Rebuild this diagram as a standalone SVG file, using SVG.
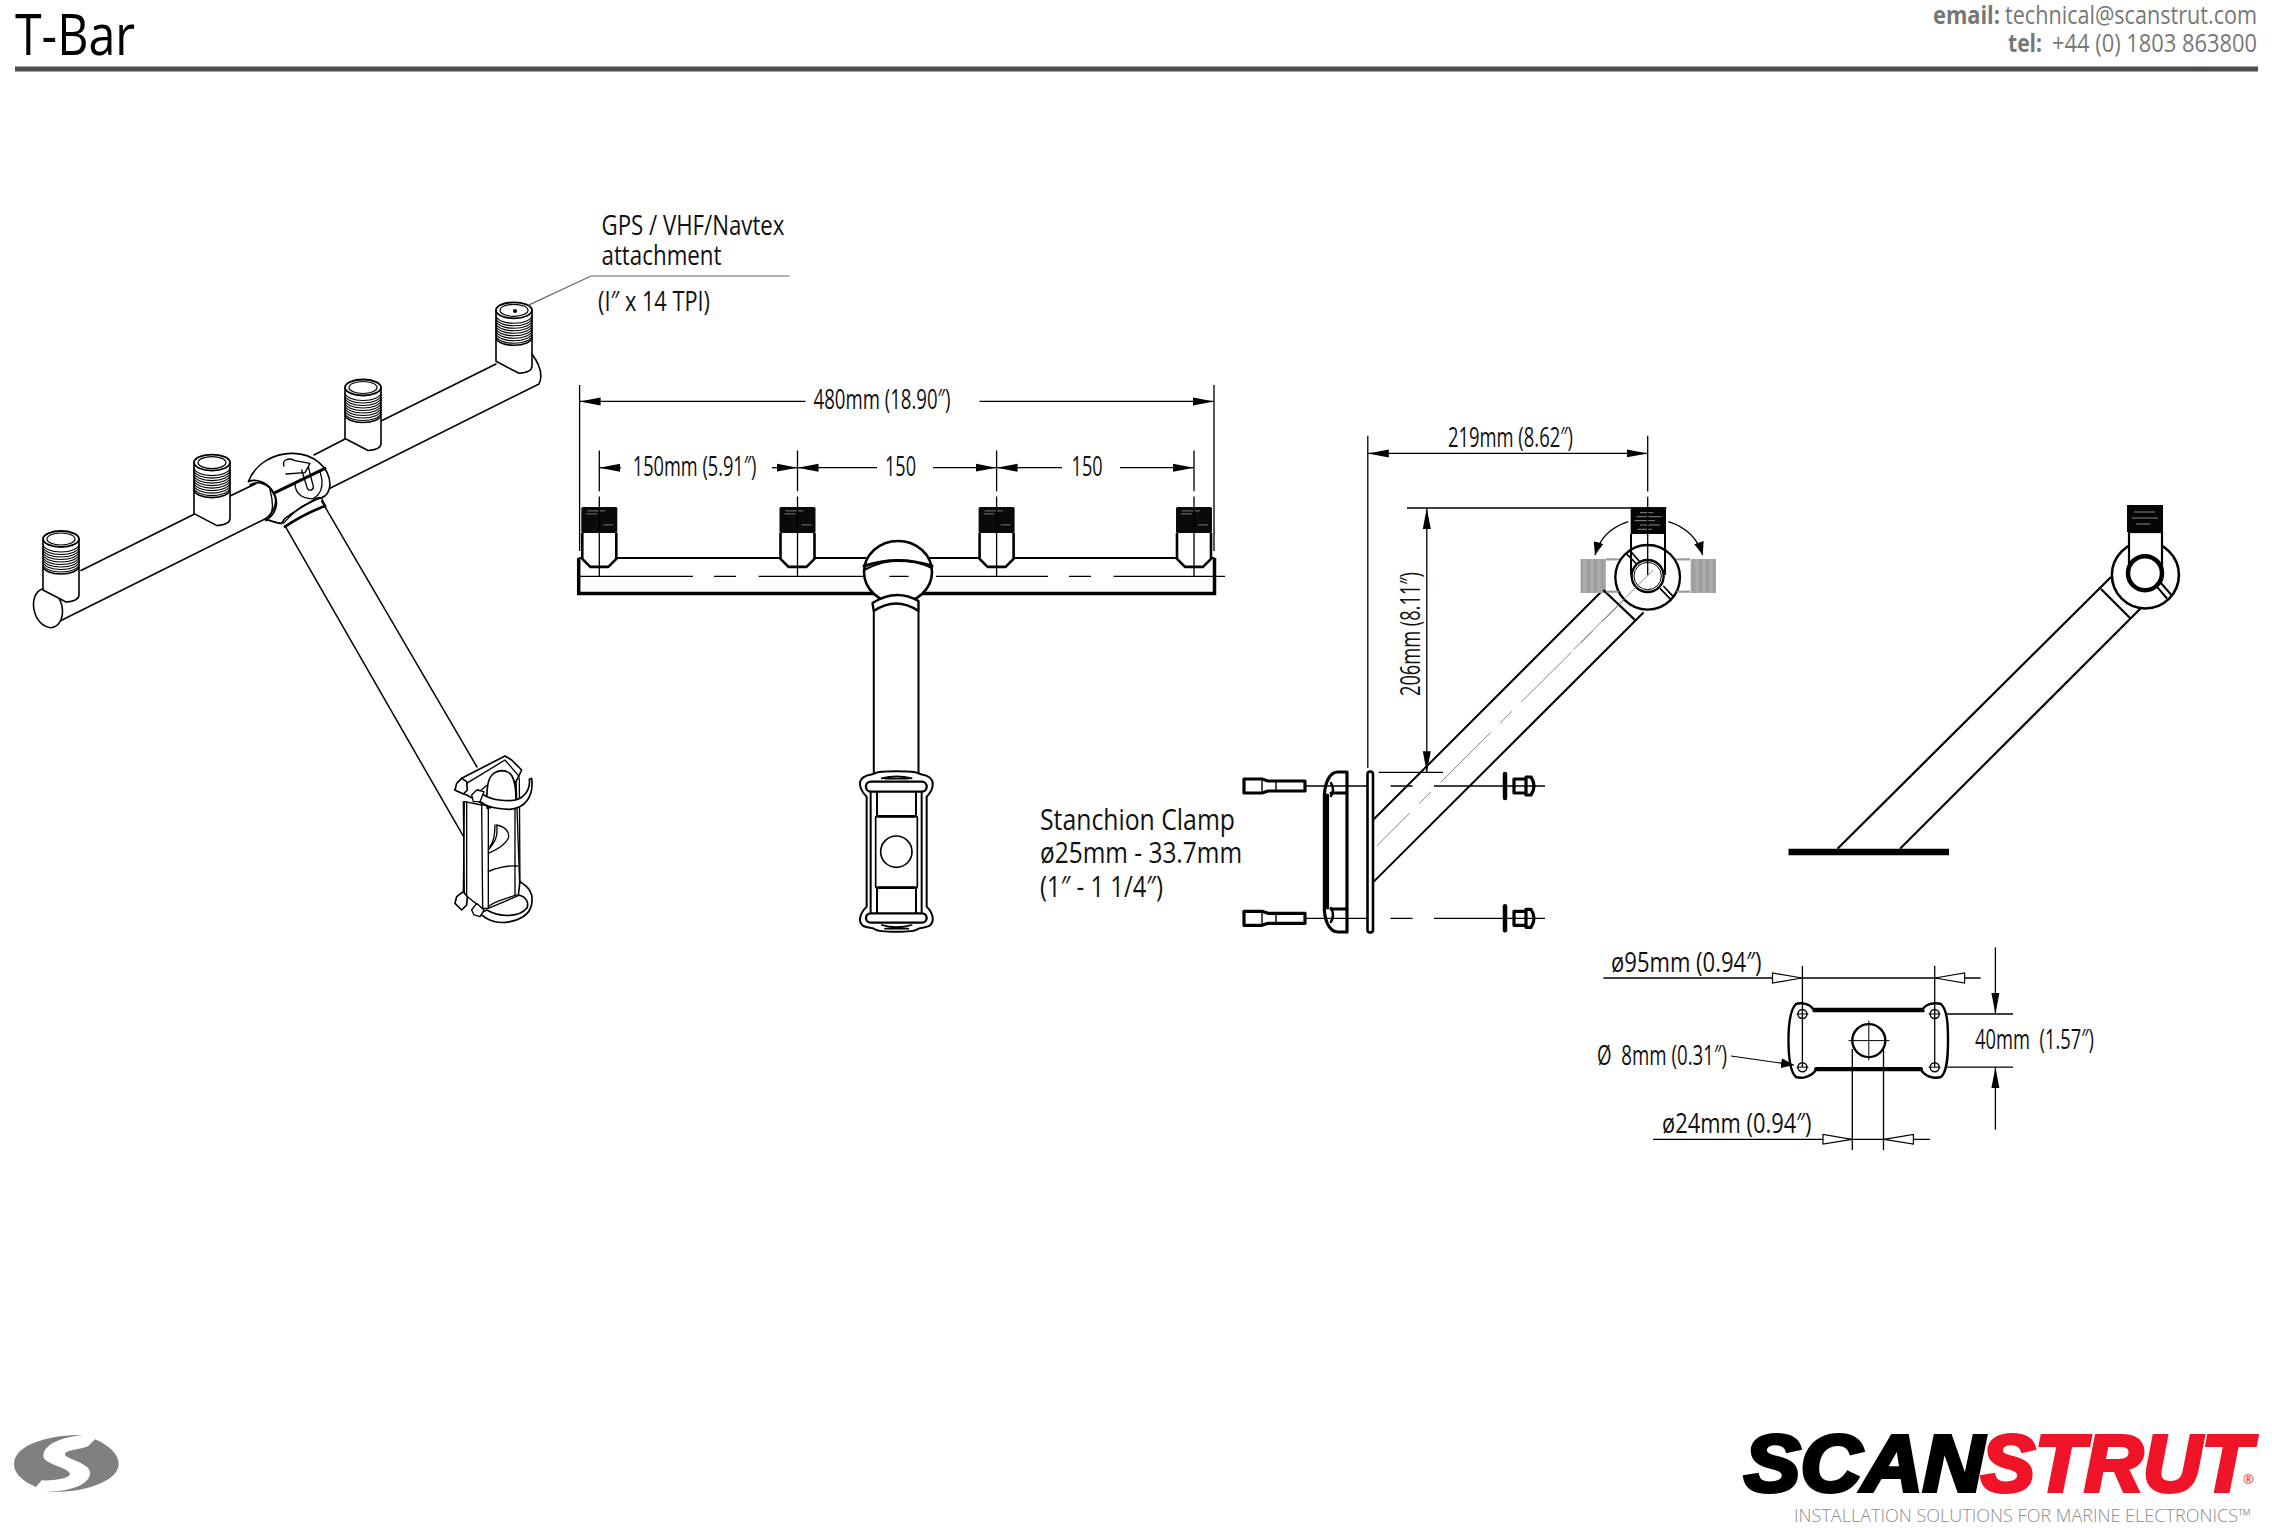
<svg xmlns="http://www.w3.org/2000/svg" width="2272" height="1530" viewBox="0 0 2272 1530">
<style>
text{font-family:"Open Sans","Noto Sans","Liberation Sans",sans-serif;fill:#111}
.n{font-size:28px}
.l{font-size:27px}
.c{fill:#777;font-size:25px}
.o,.o *{fill:none;stroke:#000;stroke-width:2;stroke-linecap:round;stroke-linejoin:round}
.w{fill:#fff!important}
.k{stroke-width:3.2!important}
.d{fill:none;stroke:#000;stroke-width:1.3}
.a{marker-end:url(#ah);marker-start:url(#ah)}
.e{marker-end:url(#ah)}
.h{fill:#fff;stroke:#000;stroke-width:1.2}
</style>
<defs>
<marker id="ah" markerUnits="userSpaceOnUse" markerWidth="22" markerHeight="10" viewBox="0 0 22 10" refX="21" refY="5" orient="auto-start-reverse"><path d="M0,1 L21,5 L0,9 Z" fill="#000"/></marker>
<marker id="as" markerUnits="userSpaceOnUse" markerWidth="14" markerHeight="10" viewBox="0 0 14 10" refX="13" refY="5" orient="auto"><path d="M0,0 L13,5 L0,10 Z" fill="#000"/></marker>
<pattern id="gt" width="3.5" height="8" patternUnits="userSpaceOnUse"><rect width="3.5" height="8" fill="#999"/><path d="M1,0 V8" stroke="#cfcfcf" stroke-width="1"/></pattern>
<g id="iso-nipple" class="o">
<path class="w" style="stroke-width:1.6" d="M-18,28 V51 L5,63 Q18,62 18,56 V28 Z"/>
<path class="w" style="stroke-width:1.6" d="M-18,0 V27 A18,8 0 0 0 18,27 V0 Z"/>
<path style="stroke-width:1.1" d="M-18,5 a18,8 0 0 0 36,0 M-18,7.5 a18,8 0 0 0 36,0 M-18,10 a18,8 0 0 0 36,0 M-18,12.5 a18,8 0 0 0 36,0 M-18,15 a18,8 0 0 0 36,0 M-18,17.5 a18,8 0 0 0 36,0 M-18,20 a18,8 0 0 0 36,0 M-18,22.5 a18,8 0 0 0 36,0 M-18,25 a18,8 0 0 0 36,0"/>
<ellipse class="w" cx="0" cy="0" rx="18" ry="8" style="stroke-width:1.8"/>
<ellipse cx="0" cy="0" rx="14" ry="6" style="stroke-width:1.2"/>
</g>
<g id="front-nipple">
<path d="M-17,26 V52 L-9,60 H9 L17,52 V26" fill="#fff" stroke="#000" stroke-width="2.6" stroke-linejoin="round"/>
<rect x="-18" y="0" width="36" height="26" rx="1.5" fill="#0a0a0a"/>
<path d="M-12,4 H6 M-13,7 H-2 M4,18 H14" stroke="#777" stroke-width="1"/>
</g>
<g id="side-bolt" class="o">
<path class="k" d="M1244,-7 H1262 L1268,-5 H1305 V5 H1268 L1262,7 H1244 Z"/>
<path d="M1262,-5 V5 M1276,-5 V5" style="stroke-width:1.4"/>
</g>
<g id="side-nut" class="o">
<path style="stroke-width:4.5" d="M1505,-12 V12"/>
<path class="k" d="M1514,-7 H1526 V7 H1514 Z M1526,-9 L1531,-9 Q1537,0 1531,9 L1526,9 Z"/>
</g>
</defs>

<g id="header">
<text x="15" y="54.5" style="font-size:56px;fill:#000" textLength="120" lengthAdjust="spacingAndGlyphs">T-Bar</text>
<rect x="15" y="66.5" width="2243" height="5" fill="#4d4d4d"/>
<text class="c" x="1933" y="24" font-weight="700" textLength="67" lengthAdjust="spacingAndGlyphs">email:</text>
<text class="c" x="2005" y="24" textLength="252" lengthAdjust="spacingAndGlyphs">technical@scanstrut.com</text>
<text class="c" x="2008" y="52" font-weight="700" textLength="34" lengthAdjust="spacingAndGlyphs">tel:</text>
<text class="c" x="2052" y="52" textLength="205" lengthAdjust="spacingAndGlyphs">+44 (0) 1803 863800</text>
</g>

<g id="iso-view">
<g class="o">
<path style="stroke-width:1.6" d="M52,625 L267,518 M329.5,488.5 L539,384 Q545,372 532,354 M81,570.5 L194.6,514 M230,496 L256,483.5 M314,455 L345,439 M381,421 L496,364"/>
<ellipse class="w" cx="48" cy="608" rx="14" ry="20" transform="rotate(-15 48 608)" style="stroke-width:1.6"/>
<path style="stroke-width:1.5" d="M285,525.8 L463,835.7 M321.6,501 L477,767"/>
</g>
<use href="#iso-nipple" x="61" y="539"/>
<use href="#iso-nipple" x="212" y="462.6"/>
<use href="#iso-nipple" x="363" y="387.5"/>
<use href="#iso-nipple" x="514" y="310.3"/>
<circle cx="515" cy="311" r="2" fill="#000"/>
<g id="iso-hub" class="o" transform="translate(230,430) scale(.3333)">
<path class="w" style="stroke-width:5" d="M55,155 C75,100 135,68 190,70 C250,72 300,110 300,165 C298,185 290,198 275,203 C240,212 200,240 165,265 L155,280 C140,280 125,272 105,268 C135,245 145,210 130,190 C115,155 75,145 55,155 Z"/>
<path style="stroke-width:5" d="M60,165 C85,150 118,162 133,192 C146,218 140,250 108,272"/>
<path style="stroke-width:4" d="M120,180 C130,215 132,240 118,262"/>
<path style="stroke-width:9" d="M135,188 L285,115"/>
<path style="stroke-width:4" d="M162,108 C155,88 178,82 195,92 L240,100 L225,128 L168,132 M195,160 C195,195 225,210 250,205 C270,195 285,170 270,125 M215,120 L232,175 C238,185 252,180 250,170 L235,110"/>
<path style="stroke-width:4" d="M160,280 C175,265 200,235 225,225 C245,215 265,195 275,205 L285,225"/>
<path style="stroke-width:8" d="M165,290 C195,270 240,245 285,228"/>
</g>
<g id="iso-clamp" class="o" transform="translate(430,740) scale(.3333)">
<path class="w" style="stroke-width:4" d="M100,460 L103,185 L155,195 L175,195 L258,118 L270,465 L175,505 L155,505 Z"/>
<path style="stroke-width:4" d="M100,185 L103,460 M110,185 L110,465 M155,195 L158,505 M175,195 L175,505 M255,115 L255,465 M268,115 L270,440"/>
<path class="w" style="stroke-width:5" d="M75,150 L95,115 L225,48 L245,60 L275,90 L258,125 L175,200 L110,165 Z"/>
<path style="stroke-width:4" d="M110,130 L225,60 L268,110 M135,165 L225,92"/>
<path class="w" style="stroke-width:5" d="M172,205 C165,110 185,95 215,92 C240,92 258,105 258,180 Z"/>
<path style="stroke-width:4" d="M175,330 C195,305 205,290 200,255 C225,260 240,275 235,295 C225,315 200,330 175,340 M180,320 C195,300 195,270 195,255"/>
<path style="stroke-width:4" d="M175,395 C195,385 235,375 262,378"/>
<path class="w" style="stroke-width:5" d="M135,165 C150,195 190,208 240,208 C285,205 312,170 305,115 L298,118 C302,150 280,182 240,182 C195,182 160,170 145,150 Z"/>
<path class="w" style="stroke-width:5" d="M75,150 L80,130 L95,115 L110,125 L112,150 L100,162 Z"/>
<path class="w" style="stroke-width:4" d="M125,165 L140,150 L162,155 L150,185 L130,185 Z"/>
<path class="w" style="stroke-width:5" d="M150,520 C175,545 210,552 240,545 C290,535 312,510 305,465 C300,445 285,435 270,425 L265,465 C290,470 298,490 290,505 C270,530 215,535 170,510 Z"/>
<path class="w" style="stroke-width:5" d="M75,490 L80,470 L100,455 L112,470 L110,495 L95,510 Z"/>
<path class="w" style="stroke-width:4" d="M125,510 L140,490 L162,510 L150,530 L132,525 Z"/>
<path style="stroke-width:4" d="M175,500 C190,485 215,480 260,465"/>
</g>
</g>

<g id="front-view">
<path d="M578.7,558 V593.5 H1214.5 V558" fill="none" stroke="#000" stroke-width="3.5"/>
<path d="M578.7,558 H1214.5" fill="none" stroke="#000" stroke-width="2.2"/>
<use href="#front-nipple" x="599.3" y="506.9"/>
<use href="#front-nipple" x="797.5" y="506.9"/>
<use href="#front-nipple" x="996.6" y="506.9"/>
<use href="#front-nipple" x="1194" y="506.9"/>
<path class="d" d="M578.7,576.4 H693 M714,576.4 H736 M758.7,576.4 H863.6 M936,576.4 H1048 M1069,576.4 H1091 M1113.6,576.4 H1225"/>
<g class="o">
<path class="w" d="M873.8,612 V773 H918.5 V612"/>
<ellipse class="w" cx="898" cy="572" rx="34" ry="31" style="stroke-width:2.6"/>
<path d="M864,570 Q898,552 932,568"/>
<path style="stroke-width:3" d="M864,566 Q898,555 932,566"/>
<path class="w" d="M872.5,603 Q896,588 918.5,601 L918.5,611 Q896,596 873.8,611 Z" style="stroke-width:2.4"/>
<path d="M890,576.4 H908" style="stroke-width:1.3"/>
</g>
<g id="front-clamp" class="o" transform="translate(840,740) scale(.3333)">
<path class="w" style="stroke-width:6" d="M80,170 C60,150 52,125 70,112 C85,102 100,105 105,100 C118,92 222,92 235,100 C240,105 255,102 268,112 C285,125 280,150 260,170 L260,500 C280,520 285,545 268,558 C255,565 240,562 232,568 C220,578 118,578 105,568 C98,562 85,565 70,558 C52,545 60,520 80,500 Z"/>
<path style="stroke-width:5" d="M125,115 Q170,103 215,115 M125,555 Q170,568 215,555 M135,116 H205 M135,566 H205"/>
<rect class="w" x="78" y="125" width="182" height="30" rx="14" style="stroke-width:7"/>
<rect class="w" x="78" y="520" width="182" height="28" rx="14" style="stroke-width:7"/>
<path style="stroke-width:6" d="M92,157 V518 M111,157 V518 M228,157 V518 M245,157 V518"/>
<rect class="w" x="107" y="229" width="125" height="214" rx="3" style="stroke-width:5"/>
<path style="stroke-width:8" d="M115,229 H225 M115,443 H225"/>
<circle cx="169" cy="335" r="47" style="stroke-width:5"/>
</g>
</g>

<g id="side-view">
<g class="o">
<path d="M1603,590 L1373,820 M1643,613 L1373,882.4"/>
<path d="M1652,572 L1377,845.6" style="stroke-width:.9;stroke:#777;stroke-dasharray:70 14 16 14"/>
<rect class="w" x="1367.5" y="771.6" width="5.5" height="160.8" rx="2.5" style="stroke-width:2.6"/>
<path class="k" d="M1346,772 H1338 C1330,772 1325,782 1324.4,795 V910 C1325,922 1330,932 1338,932 H1346"/>
<path class="k" d="M1347,772 V932 M1327.5,795 V908 M1346,793 H1331 M1346,909 H1331"/>
<path style="stroke-width:2.5" d="M1331,783 Q1335,790 1331,796 M1331,908 Q1335,915 1331,922"/>
</g>
<use href="#side-bolt" y="786"/>
<use href="#side-bolt" y="918.3"/>
<use href="#side-nut" y="786"/>
<use href="#side-nut" y="918.3"/>
<g id="side-head" transform="translate(1520,490) scale(.3333)">
<rect x="182" y="207" width="76" height="102" fill="url(#gt)"/>
<rect x="512" y="207" width="76" height="102" fill="url(#gt)"/>
<path d="M258,208 H510 M258,305 H510" stroke="#999" stroke-width="5"/>
<path d="M250,300 L345,390" stroke="#000" stroke-width="7"/>
<circle cx="383" cy="262" r="97" fill="#fff" stroke="#000" stroke-width="7"/>
<path d="M258,208 H290 M475,208 H510 M258,305 H296 M470,305 H510" stroke="#999" stroke-width="5"/>
<path d="M333,132 V255 M435,132 V255" stroke="#000" stroke-width="6"/>
<rect x="332" y="52" width="106" height="80" fill="#050505"/>
<path d="M360,68 H400 M350,80 H425 M345,92 H405 M360,105 H420 M352,118 H395" stroke="#888" stroke-width="3"/>
<path d="M318,190 L350,222 M330,182 L358,214 M420,295 L452,328 M430,288 L460,320" stroke="#000" stroke-width="5"/>
<circle cx="383" cy="258" r="48" fill="#fff" stroke="#000" stroke-width="7"/>
<circle cx="383" cy="258" r="41" fill="none" stroke="#000" stroke-width="3"/>
<path d="M400,240 L160,480" stroke="#777" stroke-width="2.5"/>
</g>
</g>

<g id="right-view">
<path d="M1837.5,848.7 L2111,577 M1900,848.7 L2141,608" fill="none" stroke="#000" stroke-width="2.2"/>
<path d="M1788.5,852 H1949" stroke="#000" stroke-width="6.5"/>
<path d="M2101,589 L2130,618" stroke="#000" stroke-width="2.2"/>
<circle cx="2145.4" cy="575" r="33.5" fill="#fff" stroke="#000" stroke-width="2.6"/>
<path d="M2156,585.6 L2167,598.5 M2160,582 L2171,594.5" stroke="#000" stroke-width="2"/>
<rect x="2129" y="532" width="33" height="36" fill="#fff" stroke="#000" stroke-width="2.2"/>
<rect x="2127" y="505" width="36" height="27" fill="#050505"/>
<path d="M2134,512 H2155 M2132,518 H2158 M2136,524 H2150" stroke="#888" stroke-width="1"/>
<circle cx="2145" cy="573.2" r="17" fill="#fff" stroke="#000" stroke-width="4.5"/>
</g>

<g id="plate-view" class="o">
<path class="w" style="stroke-width:2.4" d="M1796,1004 C1802,1002 1810,1004 1813,1009 H1923 C1926,1004 1934,1002 1941,1004 C1947,1010 1948,1022 1948,1040 C1948,1058 1947,1072 1941,1077 C1934,1079 1926,1077 1921,1070 H1816 C1811,1077 1802,1079 1796,1077 C1790,1072 1788.5,1058 1788.5,1040 C1788.5,1022 1790,1010 1796,1004 Z"/>
<path style="stroke-width:2.6" d="M1813.7,1011 H1923.4"/>
<path style="stroke-width:4" d="M1816,1069 H1921"/>
<circle style="stroke-width:1.4" cx="1802.4" cy="1014" r="4.5"/><circle style="stroke-width:1.4" cx="1934.7" cy="1014" r="4.5"/><circle style="stroke-width:1.4" cx="1802.4" cy="1067.2" r="4.5"/><circle style="stroke-width:1.4" cx="1934.7" cy="1067.2" r="4.5"/>
<path style="stroke-width:1" d="M1797,1014 H1808 M1929,1014 H1940 M1797,1067.2 H1808 M1929,1067.2 H1940"/>
<circle cx="1868.8" cy="1040.6" r="16.5" style="stroke-width:2.4"/>
<path style="stroke-width:1" d="M1849,1040.6 H1889 M1868.8,1021 V1060"/>
</g>

<g id="connectors">
<path class="d e" d="M805.5,401.4 H579.6"/>
<path class="d e" d="M979.6,401.4 H1214"/>
<path class="d" d="M579.6,385 V551 M1214,385 V551"/>
<path class="d" d="M599.3,450.6 V491.3 M599.3,496.5 V576.4 M797.5,450.6 V491.3 M797.5,496.5 V576.4 M996.6,450.6 V491.3 M996.6,496.5 V576.4 M1194,450.6 V491.3 M1194,496.5 V576.4"/>
<path class="d e" d="M621,467.7 H599.3"/>
<path class="d e" d="M772,467.7 H797.5"/>
<path class="d e" d="M877,467.7 H797.5"/>
<path class="d e" d="M933,467.7 H996.6"/>
<path class="d e" d="M1062,467.7 H996.6"/>
<path class="d e" d="M1120,467.7 H1194"/>
<path class="d a" d="M1367.8,453.4 H1647.7"/>
<path class="d" d="M1367.8,435.8 V768 M1647.7,435.8 V491.6 M1647.7,496.8 V575"/>
<path class="d a" d="M1426.8,508 V772.3"/>
<path class="d" d="M1407,508 H1666.5 M1378.7,772.3 H1443"/>
<path class="d" d="M1305.5,786 H1367 M1390.5,786 H1412.6 M1434,786 H1545 M1305.5,918.3 H1367 M1390.5,918.3 H1412.6 M1434,918.3 H1545"/>
<path d="M1628.3,521.7 Q1602,530 1595,555" fill="none" stroke="#000" stroke-width="1.3" marker-end="url(#as)"/>
<path d="M1668.3,521.7 Q1695,530 1702.7,555" fill="none" stroke="#000" stroke-width="1.3" marker-end="url(#as)"/>
<path d="M528,305.4 L591,276 H789.7" fill="none" stroke="#666" stroke-width="1.2"/>
<path class="d" d="M1603.4,978 H1980.6 M1802.4,965.8 V1067 M1934.7,965.8 V1067"/>
<polygon class="h" points="1772.5,973 1772.5,983 1802,978"/>
<polygon class="h" points="1964.6,973 1964.6,983 1935,978"/>
<path class="d e" d="M1995.4,947.4 V1014"/>
<path class="d e" d="M1995.4,1129.7 V1067.2"/>
<path class="d" d="M1946,1014 H2013 M1946,1067.2 H2013"/>
<path d="M1731,1056 L1794,1065" fill="none" stroke="#000" stroke-width="1.2" marker-end="url(#as)"/>
<path class="d" d="M1653,1139.3 H1930 M1852.3,1049 V1150 M1883.5,1049 V1150"/>
<polygon class="h" points="1823,1134.5 1823,1144 1852,1139.3"/>
<polygon class="h" points="1913.4,1134.5 1913.4,1144 1884,1139.3"/>
</g>

<g id="labels">
<text class="l" x="601.5" y="234.5" textLength="183" lengthAdjust="spacingAndGlyphs">GPS / VHF/Navtex</text>
<text class="l" x="601.5" y="264.5" textLength="120" lengthAdjust="spacingAndGlyphs">attachment</text>
<text class="l" x="598" y="310.5" textLength="112" lengthAdjust="spacingAndGlyphs">(I″ x 14 TPI)</text>
<text class="n" x="813.6" y="409" textLength="137" lengthAdjust="spacingAndGlyphs">480mm (18.90″)</text>
<text class="n" x="632.8" y="476" textLength="123.6" lengthAdjust="spacingAndGlyphs">150mm (5.91″)</text>
<text class="n" x="885" y="475.5" textLength="31" lengthAdjust="spacingAndGlyphs">150</text>
<text class="n" x="1071.6" y="475.5" textLength="31" lengthAdjust="spacingAndGlyphs">150</text>
<text class="n" x="1448" y="446.5" textLength="125" lengthAdjust="spacingAndGlyphs">219mm (8.62″)</text>
<text class="n" transform="rotate(-90 1420 696)" x="1420" y="696" textLength="124" lengthAdjust="spacingAndGlyphs">206mm (8.11″)</text>
<text style="font-size:29px" x="1040" y="830" textLength="195" lengthAdjust="spacingAndGlyphs">Stanchion Clamp</text>
<text style="font-size:29px" x="1040" y="863" textLength="202" lengthAdjust="spacingAndGlyphs">ø25mm - 33.7mm</text>
<text style="font-size:29px" x="1040" y="897" textLength="123" lengthAdjust="spacingAndGlyphs">(1″ - 1 1/4″)</text>
<text class="l" x="1611" y="972" textLength="150.6" lengthAdjust="spacingAndGlyphs">ø95mm (0.94″)</text>
<text class="n" x="1975" y="1049" textLength="119" lengthAdjust="spacingAndGlyphs" xml:space="preserve">40mm  (1.57″)</text>
<text class="n" x="1597" y="1064.5" textLength="130" lengthAdjust="spacingAndGlyphs" xml:space="preserve">Ø  8mm (0.31″)</text>
<text class="l" x="1662" y="1133" textLength="149.5" lengthAdjust="spacingAndGlyphs">ø24mm (0.94″)</text>
</g>

<g id="s-mark" transform="translate(0,1421) scale(.3333)" fill="#808080">
<path d="M250,42 C150,40 42,70 42,130 C42,160 75,185 108,198 L125,178 C150,180 205,175 210,160 C210,140 130,130 130,105 C130,75 170,50 250,42 Z"/>
<path d="M285,55 C330,75 356,100 356,130 C356,180 250,220 135,212 C200,212 270,195 270,155 C270,125 195,115 195,100 C195,85 250,85 265,75 Z"/>
</g>

<g id="logo">
<text x="1744" y="1491" style="font-family:'Liberation Sans',Arial,sans-serif;font-size:80px;font-weight:700;font-style:italic;fill:#000;stroke:#000;stroke-width:4" textLength="240" lengthAdjust="spacingAndGlyphs">SCAN</text>
<text x="1981" y="1491" style="font-family:'Liberation Sans',Arial,sans-serif;font-size:80px;font-weight:700;font-style:italic;fill:#f01428;stroke:#f01428;stroke-width:4" textLength="270" lengthAdjust="spacingAndGlyphs">STRUT</text>
<text x="2243" y="1484" style="font-size:13px;fill:#f01428">®</text>
<text x="1794" y="1522" style="font-size:18.5px;font-weight:300;fill:#8c8c8c" textLength="457" lengthAdjust="spacingAndGlyphs">INSTALLATION SOLUTIONS FOR MARINE ELECTRONICS™</text>
</g>
</svg>
